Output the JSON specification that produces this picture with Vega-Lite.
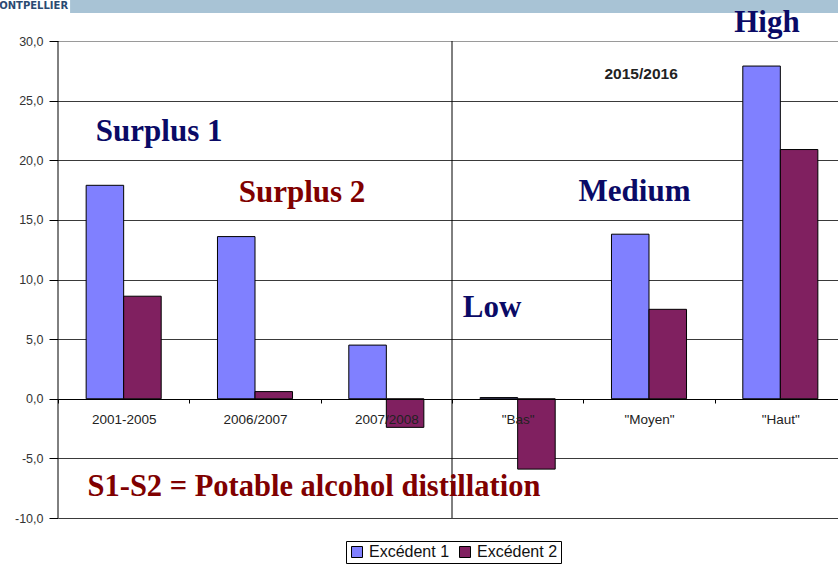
{
  "$schema": "https://vega.github.io/schema/vega-lite/v6.json",
  "width": 780,
  "height": 518,
  "autosize": {"type": "none"},
  "padding": {"left": 58, "top": 0, "right": 0, "bottom": 46},
  "background": "white",
  "config": {"view": {"stroke": null}, "font": "Liberation Sans"},
  "datasets": {
    "bars": [
      {"cat": "2001-2005", "series": "Excédent 1", "value": 17.9},
      {"cat": "2001-2005", "series": "Excédent 2", "value": 8.6},
      {"cat": "2006/2007", "series": "Excédent 1", "value": 13.6},
      {"cat": "2006/2007", "series": "Excédent 2", "value": 0.6},
      {"cat": "2007/2008", "series": "Excédent 1", "value": 4.5},
      {"cat": "2007/2008", "series": "Excédent 2", "value": -2.4},
      {"cat": "\"Bas\"", "series": "Excédent 1", "value": 0.1},
      {"cat": "\"Bas\"", "series": "Excédent 2", "value": -5.9},
      {"cat": "\"Moyen\"", "series": "Excédent 1", "value": 13.8},
      {"cat": "\"Moyen\"", "series": "Excédent 2", "value": 7.5},
      {"cat": "\"Haut\"", "series": "Excédent 1", "value": 27.9},
      {"cat": "\"Haut\"", "series": "Excédent 2", "value": 20.9}
    ],
    "one": [{}]
  },
  "resolve": {"scale": {"x": "independent"}},
  "layer": [
    {
      "data": {"name": "one"},
      "mark": {"type": "rect", "fill": "#A8C3D5"},
      "encoding": {
        "x": {"datum": 0.092, "type": "quantitative", "scale": {"domain": [0, 6], "range": [0, 788], "nice": false, "zero": false}, "axis": null},
        "x2": {"datum": 6},
        "y": {"datum": 32.35, "type": "quantitative", "title": null},
        "y2": {"datum": 33.44}
      }
    },
    {
      "data": {"name": "one"},
      "mark": {"type": "text", "text": "ONTPELLIER", "font": "DejaVu Sans", "fontWeight": "bold", "fontSize": 10, "fill": "#2B4A72", "align": "right", "baseline": "middle"},
      "encoding": {
        "x": {"datum": 0.077, "type": "quantitative", "scale": {"domain": [0, 6], "range": [0, 788], "nice": false, "zero": false}, "axis": null},
        "y": {"datum": 32.93, "type": "quantitative", "title": null}
      }
    },
    {
      "data": {"name": "bars"},
      "mark": {"type": "bar", "stroke": "#000", "strokeWidth": 1},
      "encoding": {
        "x": {
          "field": "cat", "type": "nominal", "sort": null,
          "scale": {"paddingInner": 0, "paddingOuter": 0, "range": [0, 788]},
          "axis": {"orient": "bottom", "offset": -119, "zindex": 1, "tickBand": "extent", "labelAngle": 0, "labelFontSize": 13.5, "labelColor": "#222", "domainColor": "#000", "tickColor": "#000", "tickSize": 4, "labelPadding": 9, "title": null, "grid": false}
        },
        "xOffset": {"field": "series", "type": "nominal", "scale": {"paddingInner": 0, "paddingOuter": 0.75}},
        "y": {
          "field": "value", "type": "quantitative",
          "scale": {"domain": [-10, 33.44], "nice": false, "zero": false},
          "axis": {
            "values": [-10, -5, 0, 5, 10, 15, 20, 25, 30],
            "labelExpr": "(datum.value < 0 ? '-' : '') + replace(format(abs(datum.value), '.1f'), '.', ',')",
            "domain": false, "grid": true,
            "gridColor": {"condition": {"test": "datum.value == 30", "value": "#9a9a9a"}, "value": "#3a3a3a"},
            "tickColor": "#000", "tickSize": 9, "labelPadding": 6, "labelFontSize": 12.5, "labelColor": "#333", "title": null
          }
        },
        "color": {
          "field": "series", "type": "nominal",
          "scale": {"domain": ["Excédent 1", "Excédent 2"], "range": ["#8080FF", "#802060"]},
          "legend": {"orient": "none", "legendX": 288, "legendY": 541, "direction": "horizontal", "title": null, "strokeColor": "#000", "fillColor": "white", "padding": 3, "symbolType": "square", "symbolSize": 121, "symbolStrokeColor": "#000", "symbolStrokeWidth": 1, "labelFontSize": 16, "labelColor": "#111", "columnPadding": 7, "labelOffset": 4}
        }
      }
    },
    {
      "data": {"name": "one"},
      "mark": {"type": "rule", "color": "#000", "strokeWidth": 1},
      "encoding": {
        "x": {"datum": 0, "type": "quantitative", "scale": {"domain": [0, 6], "range": [0, 788], "nice": false, "zero": false}, "axis": null},
        "y": {"datum": -10, "type": "quantitative", "title": null},
        "y2": {"datum": 30}
      }
    },
    {
      "data": {"name": "one"},
      "mark": {"type": "rule", "color": "#000", "strokeWidth": 1},
      "encoding": {
        "x": {"datum": 3, "type": "quantitative", "scale": {"domain": [0, 6], "range": [0, 788], "nice": false, "zero": false}, "axis": null},
        "y": {"datum": -10, "type": "quantitative", "title": null},
        "y2": {"datum": 30}
      }
    },
    {
      "data": {"name": "one"},
      "mark": {"type": "text", "text": "Surplus  1", "font": "Liberation Serif", "fontWeight": "bold", "fontSize": 31, "fill": "#0A0A66", "align": "center", "baseline": "middle"},
      "encoding": {
        "x": {"datum": 0.77, "type": "quantitative", "scale": {"domain": [0, 6], "range": [0, 788], "nice": false, "zero": false}, "axis": null},
        "y": {"datum": 22.39, "type": "quantitative", "title": null}
      }
    },
    {
      "data": {"name": "one"},
      "mark": {"type": "text", "text": "Surplus 2", "font": "Liberation Serif", "fontWeight": "bold", "fontSize": 31, "fill": "#800000", "align": "center", "baseline": "middle"},
      "encoding": {
        "x": {"datum": 1.858, "type": "quantitative", "scale": {"domain": [0, 6], "range": [0, 788], "nice": false, "zero": false}, "axis": null},
        "y": {"datum": 17.27, "type": "quantitative", "title": null}
      }
    },
    {
      "data": {"name": "one"},
      "mark": {"type": "text", "text": "Medium", "font": "Liberation Serif", "fontWeight": "bold", "fontSize": 31, "fill": "#0A0A66", "align": "center", "baseline": "middle"},
      "encoding": {
        "x": {"datum": 4.39, "type": "quantitative", "scale": {"domain": [0, 6], "range": [0, 788], "nice": false, "zero": false}, "axis": null},
        "y": {"datum": 17.36, "type": "quantitative", "title": null}
      }
    },
    {
      "data": {"name": "one"},
      "mark": {"type": "text", "text": "Low", "font": "Liberation Serif", "fontWeight": "bold", "fontSize": 31, "fill": "#0A0A66", "align": "center", "baseline": "middle"},
      "encoding": {
        "x": {"datum": 3.305, "type": "quantitative", "scale": {"domain": [0, 6], "range": [0, 788], "nice": false, "zero": false}, "axis": null},
        "y": {"datum": 7.63, "type": "quantitative", "title": null}
      }
    },
    {
      "data": {"name": "one"},
      "mark": {"type": "text", "text": "High", "font": "Liberation Serif", "fontWeight": "bold", "fontSize": 31, "fill": "#0A0A66", "align": "center", "baseline": "middle"},
      "encoding": {
        "x": {"datum": 5.398, "type": "quantitative", "scale": {"domain": [0, 6], "range": [0, 788], "nice": false, "zero": false}, "axis": null},
        "y": {"datum": 31.55, "type": "quantitative", "title": null}
      }
    },
    {
      "data": {"name": "one"},
      "mark": {"type": "text", "text": "2015/2016", "font": "Liberation Sans", "fontWeight": "bold", "fontSize": 15.5, "fill": "#222", "align": "center", "baseline": "middle"},
      "encoding": {
        "x": {"datum": 4.44, "type": "quantitative", "scale": {"domain": [0, 6], "range": [0, 788], "nice": false, "zero": false}, "axis": null},
        "y": {"datum": 27.25, "type": "quantitative", "title": null}
      }
    },
    {
      "data": {"name": "one"},
      "mark": {"type": "text", "text": "S1-S2 = Potable alcohol distillation", "font": "Liberation Serif", "fontWeight": "bold", "fontSize": 30.5, "fill": "#800000", "align": "center", "baseline": "middle"},
      "encoding": {
        "x": {"datum": 1.949, "type": "quantitative", "scale": {"domain": [0, 6], "range": [0, 788], "nice": false, "zero": false}, "axis": null},
        "y": {"datum": -7.38, "type": "quantitative", "title": null}
      }
    }
  ]
}
